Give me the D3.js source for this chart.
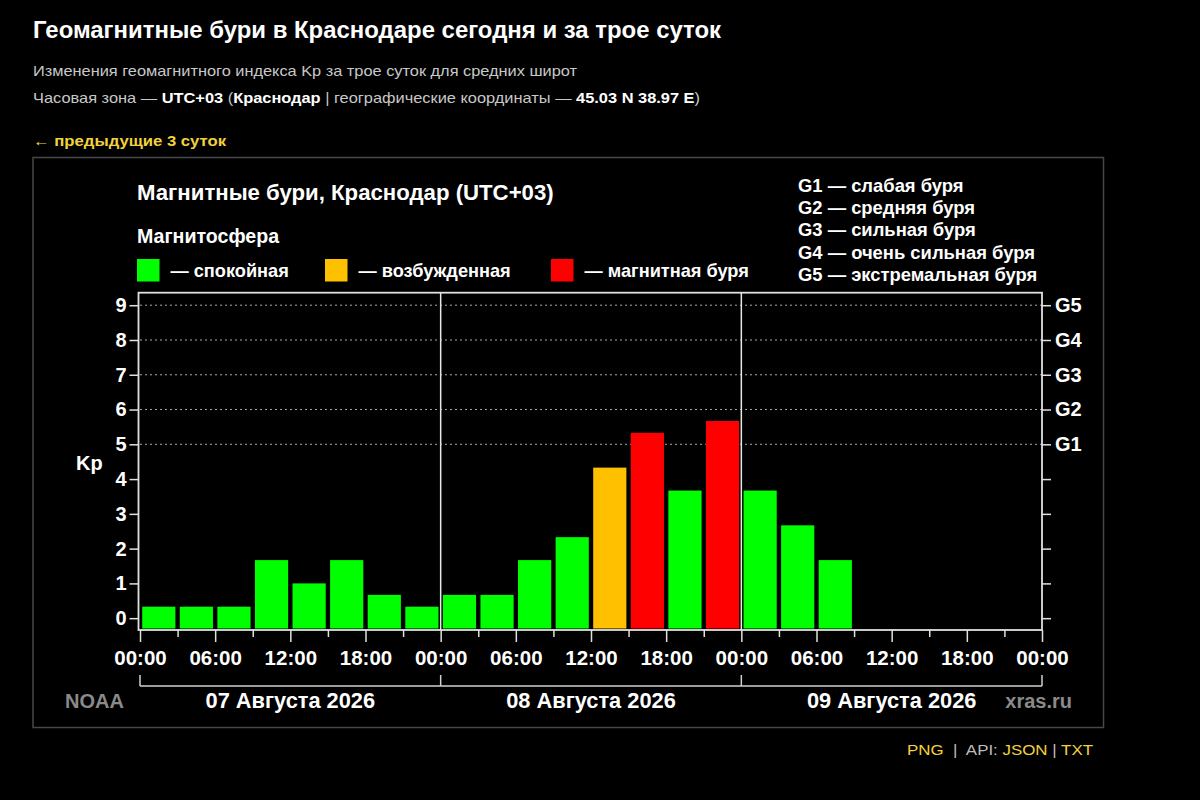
<!DOCTYPE html>
<html>
<head>
<meta charset="utf-8">
<script src="https://cdn.jsdelivr.net/npm/d3@7/dist/d3.min.js"></script>
<style>
  html, body { margin: 0; padding: 0; background: #000; }
  svg { display: block; }
  text { font-family: "Liberation Sans", Arial, sans-serif; }
</style>
</head>
<body>
<svg id="chart" width="1200" height="800"></svg>
<script>
// ---- data ----
const days = ["07 Августа 2026", "08 Августа 2026", "09 Августа 2026"];
const hourLabels = ["00:00", "06:00", "12:00", "18:00"];
const kpDay1 = [0.33, 0.33, 0.33, 1.67, 1.0, 1.67, 0.67, 0.33];
const kpDay2 = [0.67, 0.67, 1.67, 2.33, 4.33, 5.33, 3.67, 5.67];
const kpDay3 = [3.67, 2.67, 1.67];
const kpTicks = [0, 1, 2, 3, 4, 5, 6, 7, 8, 9];
const gLabels = ["G1", "G2", "G3", "G4", "G5"];
const gLegend = ["G1 — слабая буря", "G2 — средняя буря", "G3 — сильная буря", "G4 — очень сильная буря", "G5 — экстремальная буря"];
const stateLabels = ["— спокойная", "— возбужденная", "— магнитная буря"];
const stateColors = ["#00ff00", "#ffc000", "#ff0000"];
const stateThresholds = [4, 5];

const pageTitle = "Геомагнитные бури в Краснодаре сегодня и за трое суток";
const pageSub = "Изменения геомагнитного индекса Kp за трое суток для средних широт";
const chartTitle = "Магнитные бури, Краснодар (UTC+03)";

const kp = [...kpDay1, ...kpDay2, ...kpDay3].map((v, i) => ({ h: i * 3, v }));

// ---- layout ----
const svg = d3.select("#chart");
const X0 = 140, X1 = 1042, YT = 292.7, YB = 630;

const x = d3.scaleLinear().domain([0, 72]).range([X0, X1]);
const y = d3.scaleLinear().domain([-0.34, 9.36]).range([YB, YT]);
const color = d3.scaleThreshold().domain(stateThresholds).range(stateColors);

// ---- page header ----
svg.append("text").attr("x", 33).attr("y", 38)
  .attr("font-size", 23).attr("font-weight", "bold").attr("fill", "#fff")
  .attr("textLength", 688).attr("lengthAdjust", "spacingAndGlyphs")
  .text(pageTitle);
svg.append("text").attr("x", 33).attr("y", 76)
  .attr("font-size", 15).attr("fill", "#c8c8c8")
  .attr("textLength", 544).attr("lengthAdjust", "spacingAndGlyphs")
  .text(pageSub);
const l3 = svg.append("text").attr("x", 33).attr("y", 103)
  .attr("font-size", 15).attr("fill", "#c8c8c8")
  .attr("textLength", 667).attr("lengthAdjust", "spacingAndGlyphs");
[["Часовая зона — ", false], ["UTC+03", true], [" (", false], ["Краснодар", true],
 [" | географические координаты — ", false], ["45.03 N 38.97 E", true], [")", false]]
  .forEach(([t, b]) => l3.append("tspan").attr("font-weight", b ? "bold" : "normal")
    .attr("fill", b ? "#fff" : "#c8c8c8").text(t));
svg.append("text").attr("x", 33).attr("y", 146)
  .attr("font-size", 15).attr("font-weight", "bold").attr("fill", "#f2d23c")
  .attr("textLength", 193).attr("lengthAdjust", "spacingAndGlyphs")
  .text("← предыдущие 3 суток");

// panel border
svg.append("rect").attr("x", 33).attr("y", 157.5).attr("width", 1070.5).attr("height", 570)
  .attr("fill", "#000").attr("stroke", "#474747").attr("stroke-width", 1.5);

// ---- chart title & legend ----
svg.append("text").attr("x", 137).attr("y", 200)
  .attr("font-size", 22.2).attr("font-weight", "bold").attr("fill", "#fff").text(chartTitle);
svg.append("text").attr("x", 137).attr("y", 243)
  .attr("font-size", 19.6).attr("font-weight", "bold").attr("fill", "#fff").text("Магнитосфера");

const legX = [137, 325, 551];
const leg = svg.append("g").selectAll("g").data(stateLabels).join("g")
  .attr("transform", (d, i) => `translate(${legX[i]},259)`);
leg.append("rect").attr("width", 22.5).attr("height", 22.5).attr("fill", (d, i) => stateColors[i]);
leg.append("text").attr("x", 33.5).attr("y", 17.5).attr("font-size", 18.2)
  .attr("font-weight", "bold").attr("fill", "#fff").text(d => d);

svg.append("g").selectAll("text").data(gLegend).join("text")
  .attr("x", 798).attr("y", (d, i) => 191.7 + i * 22.3)
  .attr("font-size", 18.4).attr("font-weight", "bold").attr("fill", "#fff").text(d => d);

// ---- grid ----
svg.append("g").selectAll("line").data(kpTicks.filter(d => d >= 5)).join("line")
  .attr("x1", X0).attr("x2", X1).attr("y1", d => y(d)).attr("y2", d => y(d))
  .attr("stroke", "#a8a8a8").attr("stroke-width", 1).attr("stroke-dasharray", "2,3");

// ---- bars ----
const slot = x(3) - x(0);
svg.append("g").selectAll("rect").data(kp).join("rect")
  .attr("x", d => x(d.h) + 2.2).attr("width", slot - 4.4)
  .attr("y", d => y(d.v)).attr("height", d => YB - 1.5 - y(d.v))
  .attr("fill", d => color(d.v));

// day separators
svg.append("g").selectAll("line").data([24, 48]).join("line")
  .attr("x1", d => x(d)).attr("x2", d => x(d)).attr("y1", YT).attr("y2", YB)
  .attr("stroke", "#e8e8e8").attr("stroke-width", 1.5);

// frame
svg.append("rect").attr("x", 138.5).attr("y", YT).attr("width", X1 - 138.5).attr("height", YB - YT)
  .attr("fill", "none").attr("stroke", "#e0e0e0").attr("stroke-width", 1.8);

// ---- axes ----
function styleAxis(g) {
  g.select(".domain").remove();
  g.selectAll(".tick line").attr("stroke", "#e0e0e0").attr("stroke-width", 1.5);
  g.selectAll(".tick text").attr("fill", "#fff").attr("font-weight", "bold")
    .attr("font-family", "Liberation Sans, Arial, sans-serif");
}

const yl = svg.append("g").attr("transform", `translate(${138.5},0)`)
  .call(d3.axisLeft(y).tickValues(kpTicks).tickSize(9).tickPadding(3).tickFormat(d3.format("d")));
styleAxis(yl); yl.selectAll(".tick text").attr("font-size", 20);

const yr = svg.append("g").attr("transform", `translate(${X1},0)`)
  .call(d3.axisRight(y).tickValues(kpTicks).tickSize(9).tickPadding(4)
    .tickFormat(d => d >= 5 ? gLabels[d - 5] : ""));
styleAxis(yr); yr.selectAll(".tick text").attr("font-size", 20);

const xa = svg.append("g").attr("transform", `translate(0,${YB})`)
  .call(d3.axisBottom(x).tickValues(d3.range(0, 73, 3)).tickSize(12).tickPadding(8)
    .tickFormat(d => d % 6 === 0 ? hourLabels[(d % 24) / 6] : ""));
styleAxis(xa);
xa.selectAll(".tick line").attr("y2", d => d % 6 === 0 ? 12 : 7);
xa.selectAll(".tick text").attr("font-size", 20.5);

svg.append("text").attr("x", 76).attr("y", 469.5).attr("font-size", 20)
  .attr("font-weight", "bold").attr("fill", "#fff").text("Kp");

// day brackets
const br = svg.append("g").attr("stroke", "#d0d0d0").attr("stroke-width", 1.5);
br.append("line").attr("x1", x(0)).attr("x2", x(72)).attr("y1", 686).attr("y2", 686);
br.selectAll("line.v").data([0, 24, 48, 72]).join("line").attr("class", "v")
  .attr("x1", d => x(d)).attr("x2", d => x(d)).attr("y1", 675).attr("y2", 686);

svg.append("g").selectAll("text").data(days).join("text")
  .attr("x", (d, i) => x(i * 24 + 12)).attr("y", 707.5).attr("text-anchor", "middle")
  .attr("font-size", 21.8).attr("font-weight", "bold").attr("fill", "#fff").text(d => d);

svg.append("text").attr("x", 65).attr("y", 707.5).attr("font-size", 20)
  .attr("font-weight", "bold").attr("fill", "#8a8a8a").text("NOAA");
svg.append("text").attr("x", 1072).attr("y", 707.5).attr("text-anchor", "end").attr("font-size", 20)
  .attr("font-weight", "bold").attr("fill", "#8a8a8a").text("xras.ru");

// ---- footer ----
const ft = svg.append("text").attr("x", 1093).attr("y", 755).attr("text-anchor", "end")
  .attr("font-size", 15).attr("textLength", 186).attr("lengthAdjust", "spacingAndGlyphs");
[["PNG", "#f2d23c"], ["  |  API: ", "#bdbdbd"], ["JSON", "#f2d23c"], [" | ", "#bdbdbd"], ["TXT", "#f2d23c"]]
  .forEach(([t, c]) => ft.append("tspan").attr("fill", c).attr("xml:space", "preserve").text(t));
</script>
</body>
</html>
